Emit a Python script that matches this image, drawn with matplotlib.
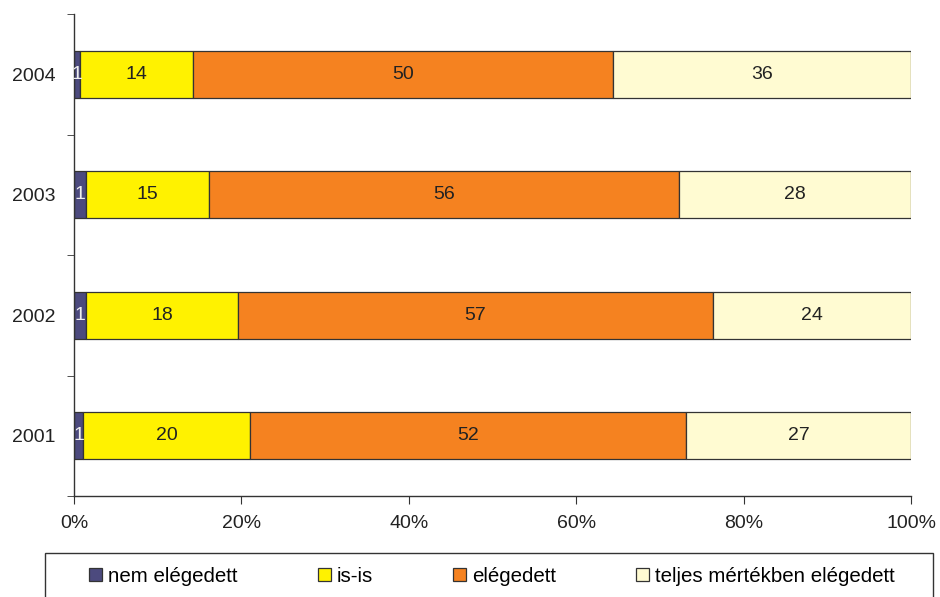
import matplotlib
matplotlib.use("Agg")
import matplotlib.pyplot as plt
from matplotlib.patches import Rectangle
from matplotlib.ticker import FixedLocator, PercentFormatter

plt.rcParams['font.family'] = ['Liberation Sans', 'DejaVu Sans']

years = ["2001", "2002", "2003", "2004"]
series_names = ["nem elégedett", "is-is", "elégedett", "teljes mértékben elégedett"]
nem = [1.1, 1.4, 1.4, 0.7]
isis = [19.9, 18.2, 14.7, 13.5]
eleg = [52.1, 56.7, 56.2, 50.2]
teljes = [26.9, 23.7, 27.7, 35.6]
labels = [
    [1, 1, 1, 1],
    [20, 18, 15, 14],
    [52, 57, 56, 50],
    [27, 24, 28, 36],
]
colors = ["#4C4A7E", "#FFF200", "#F58220", "#FFFBD2"]
text_colors = ["#EEEEEE", "#222222", "#222222", "#222222"]
FS = 14

fig = plt.figure(figsize=(9.4, 5.97), dpi=100)
ax = fig.add_axes([74/940, 1-496/597, (911-74)/940, (496-14)/597])

series = [nem, isis, eleg, teljes]
y = list(range(len(years)))
left = [0.0]*len(years)
handles = []
for s, vals in enumerate(series):
    bars = ax.barh(y, vals, left=left, height=0.39, color=colors[s],
                   edgecolor="#333333", linewidth=0.9, label=series_names[s])
    handles.append(bars)
    for i, v in enumerate(vals):
        ax.text(left[i] + v/2, y[i], str(labels[s][i]), ha="center", va="center",
                fontsize=FS, color=text_colors[s])
    left = [l + v for l, v in zip(left, vals)]

ax.set_xlim(0, 100)
ax.set_ylim(-0.5, 3.5)
ax.set_yticks(y)
ax.set_yticklabels(years, fontsize=FS, color="#222222")
ax.yaxis.set_minor_locator(FixedLocator([-0.5, 0.5, 1.5, 2.5, 3.5]))
ax.tick_params(axis="y", which="major", length=0, pad=13)
ax.tick_params(axis="y", which="minor", length=5, direction="out", color="#333333")
ax.set_xticks([0, 20, 40, 60, 80, 100])
ax.xaxis.set_major_formatter(PercentFormatter(decimals=0))
ax.tick_params(axis="x", which="major", length=6, direction="out", pad=8,
               labelsize=FS, labelcolor="#222222", color="#333333")
for sp in ["top", "right"]:
    ax.spines[sp].set_visible(False)
for sp in ["left", "bottom"]:
    ax.spines[sp].set_color("#333333")
    ax.spines[sp].set_linewidth(1.0)

# legend frame
fig.patches.append(Rectangle((45/940, -0.05), 888/940, 1-553/597+0.05,
                             transform=fig.transFigure, fill=False,
                             edgecolor="#333333", linewidth=1.0))
leg = fig.legend(handles=handles, labels=series_names, loc="center",
                 bbox_to_anchor=(492/940, 1-576/597), ncol=4, fontsize=14.8,
                 frameon=False, handlelength=0.62, handleheight=0.62,
                 handletextpad=0.3, columnspacing=3.9, borderpad=0)

fig.savefig("out.png", dpi=100)
